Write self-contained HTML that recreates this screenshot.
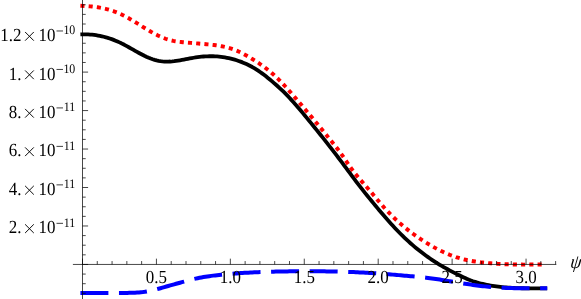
<!DOCTYPE html>
<html><head><meta charset="utf-8"><title>plot</title>
<style>
html,body{margin:0;padding:0;background:#fff;}
body{width:581px;height:299px;overflow:hidden;font-family:"Liberation Serif",serif;}
svg{display:block;will-change:transform;}
text{font-family:"Liberation Serif",serif;font-size:18.5px;fill:#000;text-rendering:geometricPrecision;}
</style></head><body>
<svg width="581" height="299" viewBox="0 0 581 299">
<rect width="581" height="299" fill="#fff"/>
<path d="M80.40,34.43 L82.35,34.36 L84.31,34.33 L86.26,34.35 L88.21,34.43 L90.17,34.54 L92.12,34.71 L94.07,34.93 L96.03,35.20 L97.98,35.51 L99.93,35.88 L101.88,36.30 L103.84,36.77 L105.79,37.29 L107.74,37.86 L109.70,38.48 L111.65,39.16 L113.60,39.88 L115.56,40.66 L117.51,41.50 L119.46,42.38 L121.42,43.32 L123.37,44.31 L125.32,45.34 L127.28,46.40 L129.23,47.48 L131.18,48.58 L133.13,49.69 L135.09,50.79 L137.04,51.89 L138.99,52.96 L140.95,54.01 L142.90,55.02 L144.85,55.99 L146.81,56.91 L148.76,57.77 L150.71,58.56 L152.67,59.27 L154.62,59.90 L156.57,60.44 L158.53,60.87 L160.48,61.20 L162.43,61.43 L164.38,61.57 L166.34,61.62 L168.29,61.60 L170.24,61.52 L172.20,61.37 L174.15,61.17 L176.10,60.92 L178.06,60.63 L180.01,60.31 L181.96,59.96 L183.92,59.59 L185.87,59.22 L187.82,58.84 L189.78,58.46 L191.73,58.09 L193.68,57.75 L195.64,57.42 L197.59,57.13 L199.54,56.88 L201.49,56.67 L203.45,56.50 L205.40,56.37 L207.35,56.28 L209.31,56.23 L211.26,56.22 L213.21,56.26 L215.17,56.34 L217.12,56.47 L219.07,56.64 L221.03,56.86 L222.98,57.12 L224.93,57.43 L226.89,57.78 L228.84,58.19 L230.79,58.64 L232.74,59.14 L234.70,59.69 L236.65,60.29 L238.60,60.94 L240.56,61.64 L242.51,62.39 L244.46,63.20 L246.42,64.07 L248.37,64.99 L250.32,65.99 L252.28,67.04 L254.23,68.17 L256.18,69.36 L258.14,70.63 L260.09,71.97 L262.04,73.37 L263.99,74.83 L265.95,76.35 L267.90,77.92 L269.85,79.52 L271.81,81.17 L273.76,82.84 L275.71,84.54 L277.67,86.27 L279.62,88.04 L281.57,89.86 L283.53,91.74 L285.48,93.68 L287.43,95.68 L289.39,97.75 L291.34,99.86 L293.29,102.02 L295.25,104.23 L297.20,106.47 L299.15,108.75 L301.10,111.06 L303.06,113.39 L305.01,115.74 L306.96,118.11 L308.92,120.49 L310.87,122.87 L312.82,125.27 L314.78,127.68 L316.73,130.10 L318.68,132.53 L320.64,134.97 L322.59,137.42 L324.54,139.89 L326.50,142.36 L328.45,144.86 L330.40,147.36 L332.35,149.88 L334.31,152.41 L336.26,154.96 L338.21,157.52 L340.17,160.10 L342.12,162.70 L344.07,165.31 L346.03,167.94 L347.98,170.58 L349.93,173.22 L351.89,175.86 L353.84,178.49 L355.79,181.09 L357.75,183.65 L359.70,186.19 L361.65,188.68 L363.61,191.14 L365.56,193.58 L367.51,196.00 L369.46,198.40 L371.42,200.79 L373.37,203.17 L375.32,205.54 L377.28,207.89 L379.23,210.22 L381.18,212.53 L383.14,214.82 L385.09,217.09 L387.04,219.32 L389.00,221.53 L390.95,223.70 L392.90,225.84 L394.86,227.95 L396.81,230.01 L398.76,232.03 L400.71,234.01 L402.67,235.94 L404.62,237.83 L406.57,239.67 L408.53,241.47 L410.48,243.22 L412.43,244.93 L414.39,246.60 L416.34,248.23 L418.29,249.81 L420.25,251.36 L422.20,252.87 L424.15,254.33 L426.11,255.76 L428.06,257.15 L430.01,258.50 L431.96,259.82 L433.92,261.11 L435.87,262.36 L437.82,263.58 L439.78,264.77 L441.73,265.93 L443.68,267.07 L445.64,268.17 L447.59,269.26 L449.54,270.32 L451.50,271.36 L453.45,272.38 L455.40,273.38 L457.36,274.36 L459.31,275.32 L461.26,276.27 L463.22,277.20 L465.17,278.10 L467.12,278.96 L469.07,279.77 L471.03,280.52 L472.98,281.21 L474.93,281.84 L476.89,282.43 L478.84,282.97 L480.79,283.48 L482.75,283.96 L484.70,284.40 L486.65,284.81 L488.61,285.19 L490.56,285.55 L492.51,285.87 L494.47,286.18 L496.42,286.45 L498.37,286.70 L500.32,286.93 L502.28,287.14 L504.23,287.32 L506.18,287.49 L508.14,287.63 L510.09,287.76 L512.04,287.87 L514.00,287.97 L515.95,288.05 L517.90,288.12 L519.86,288.18 L521.81,288.23 L523.76,288.26 L525.72,288.29 L527.67,288.31 L529.62,288.32 L531.57,288.32 L533.53,288.33 L535.48,288.32 L537.43,288.32 L539.39,288.31 L541.34,288.30 L543.29,288.30 L545.25,288.29 L547.20,288.29" fill="none" stroke="#000" stroke-width="3.8" stroke-linejoin="round"/>
<path d="M80.40,5.78 L82.34,5.85 L84.27,5.94 L86.21,6.06 L88.14,6.19 L90.08,6.35 L92.01,6.54 L93.95,6.76 L95.88,7.01 L97.82,7.29 L99.76,7.61 L101.69,7.98 L103.63,8.38 L105.56,8.83 L107.50,9.32 L109.43,9.86 L111.37,10.45 L113.30,11.10 L115.24,11.80 L117.18,12.56 L119.11,13.37 L121.05,14.25 L122.98,15.20 L124.92,16.19 L126.85,17.24 L128.79,18.32 L130.72,19.44 L132.66,20.59 L134.60,21.77 L136.53,22.96 L138.47,24.16 L140.40,25.37 L142.34,26.57 L144.27,27.76 L146.21,28.94 L148.14,30.10 L150.08,31.24 L152.02,32.34 L153.95,33.40 L155.89,34.43 L157.82,35.40 L159.76,36.33 L161.69,37.19 L163.63,38.00 L165.56,38.73 L167.50,39.39 L169.44,39.98 L171.37,40.48 L173.31,40.90 L175.24,41.25 L177.18,41.54 L179.11,41.80 L181.05,42.01 L182.98,42.21 L184.92,42.40 L186.86,42.58 L188.79,42.75 L190.73,42.92 L192.66,43.08 L194.60,43.24 L196.53,43.40 L198.47,43.56 L200.41,43.72 L202.34,43.88 L204.28,44.05 L206.21,44.22 L208.15,44.41 L210.08,44.60 L212.02,44.81 L213.95,45.04 L215.89,45.30 L217.83,45.58 L219.76,45.90 L221.70,46.26 L223.63,46.65 L225.57,47.09 L227.50,47.58 L229.44,48.12 L231.37,48.71 L233.31,49.37 L235.25,50.09 L237.18,50.88 L239.12,51.75 L241.05,52.68 L242.99,53.67 L244.92,54.71 L246.86,55.79 L248.79,56.92 L250.73,58.07 L252.67,59.25 L254.60,60.46 L256.54,61.70 L258.47,62.97 L260.41,64.29 L262.34,65.66 L264.28,67.07 L266.21,68.54 L268.15,70.06 L270.09,71.65 L272.02,73.30 L273.96,75.03 L275.89,76.82 L277.83,78.70 L279.76,80.64 L281.70,82.64 L283.63,84.69 L285.57,86.80 L287.51,88.94 L289.44,91.12 L291.38,93.32 L293.31,95.55 L295.25,97.79 L297.18,100.04 L299.12,102.29 L301.05,104.56 L302.99,106.83 L304.93,109.11 L306.86,111.40 L308.80,113.69 L310.73,116.00 L312.67,118.31 L314.60,120.63 L316.54,122.97 L318.47,125.31 L320.41,127.66 L322.35,130.02 L324.28,132.39 L326.22,134.77 L328.15,137.16 L330.09,139.56 L332.02,141.96 L333.96,144.37 L335.89,146.81 L337.83,149.30 L339.77,151.87 L341.70,154.54 L343.64,157.32 L345.57,160.17 L347.51,163.04 L349.44,165.87 L351.38,168.61 L353.31,171.22 L355.25,173.70 L357.19,176.08 L359.12,178.38 L361.06,180.63 L362.99,182.85 L364.93,185.05 L366.86,187.27 L368.80,189.52 L370.73,191.81 L372.67,194.12 L374.61,196.45 L376.54,198.77 L378.48,201.07 L380.41,203.34 L382.35,205.57 L384.28,207.74 L386.22,209.86 L388.15,211.91 L390.09,213.91 L392.03,215.86 L393.96,217.75 L395.90,219.59 L397.83,221.38 L399.77,223.12 L401.70,224.81 L403.64,226.46 L405.57,228.06 L407.51,229.62 L409.45,231.13 L411.38,232.61 L413.32,234.04 L415.25,235.44 L417.19,236.80 L419.12,238.13 L421.06,239.42 L422.99,240.68 L424.93,241.91 L426.87,243.11 L428.80,244.28 L430.74,245.42 L432.67,246.52 L434.61,247.60 L436.54,248.64 L438.48,249.65 L440.42,250.62 L442.35,251.56 L444.29,252.46 L446.22,253.32 L448.16,254.14 L450.09,254.93 L452.03,255.68 L453.96,256.38 L455.90,257.05 L457.84,257.67 L459.77,258.25 L461.71,258.78 L463.64,259.28 L465.58,259.74 L467.51,260.16 L469.45,260.54 L471.38,260.90 L473.32,261.23 L475.26,261.53 L477.19,261.81 L479.13,262.07 L481.06,262.32 L483.00,262.55 L484.93,262.76 L486.87,262.96 L488.80,263.14 L490.74,263.31 L492.68,263.47 L494.61,263.62 L496.55,263.75 L498.48,263.87 L500.42,263.98 L502.35,264.08 L504.29,264.17 L506.22,264.25 L508.16,264.31 L510.10,264.37 L512.03,264.42 L513.97,264.47 L515.90,264.50 L517.84,264.53 L519.77,264.55 L521.71,264.57 L523.64,264.58 L525.58,264.58 L527.52,264.58 L529.45,264.57 L531.39,264.56 L533.32,264.55 L535.26,264.53 L537.19,264.51 L539.13,264.49 L541.06,264.47 L543.00,264.45" fill="none" stroke="#f00" stroke-width="3.9" stroke-dasharray="4.1 4.15" stroke-linejoin="round"/>
<path d="M80.40,292.90 L82.35,292.90 L84.31,292.91 L86.26,292.91 L88.21,292.91 L90.17,292.90 L92.12,292.90 L94.07,292.90 L96.03,292.90 L97.98,292.90 L99.93,292.89 L101.88,292.89 L103.84,292.89 L105.79,292.89 L107.74,292.89 L109.70,292.89 L111.65,292.89 L113.60,292.89 L115.56,292.89 L117.51,292.90 L119.46,292.90 L121.42,292.91 L123.37,292.91 L125.32,292.91 L127.28,292.90 L129.23,292.87 L131.18,292.83 L133.13,292.77 L135.09,292.68 L137.04,292.57 L138.99,292.42 L140.95,292.24 L142.90,292.03 L144.85,291.77 L146.81,291.46 L148.76,291.11 L150.71,290.71 L152.67,290.28 L154.62,289.81 L156.57,289.31 L158.53,288.78 L160.48,288.24 L162.43,287.68 L164.38,287.11 L166.34,286.54 L168.29,285.98 L170.24,285.41 L172.20,284.86 L174.15,284.31 L176.10,283.78 L178.06,283.24 L180.01,282.71 L181.96,282.18 L183.92,281.65 L185.87,281.12 L187.82,280.59 L189.78,280.07 L191.73,279.57 L193.68,279.08 L195.64,278.63 L197.59,278.20 L199.54,277.81 L201.49,277.43 L203.45,277.08 L205.40,276.76 L207.35,276.45 L209.31,276.16 L211.26,275.89 L213.21,275.64 L215.17,275.40 L217.12,275.17 L219.07,274.96 L221.03,274.75 L222.98,274.56 L224.93,274.37 L226.89,274.19 L228.84,274.02 L230.79,273.85 L232.74,273.69 L234.70,273.54 L236.65,273.39 L238.60,273.25 L240.56,273.12 L242.51,272.99 L244.46,272.87 L246.42,272.75 L248.37,272.64 L250.32,272.53 L252.28,272.43 L254.23,272.34 L256.18,272.25 L258.14,272.16 L260.09,272.08 L262.04,272.01 L263.99,271.94 L265.95,271.87 L267.90,271.81 L269.85,271.75 L271.81,271.70 L273.76,271.65 L275.71,271.60 L277.67,271.56 L279.62,271.52 L281.57,271.49 L283.53,271.45 L285.48,271.42 L287.43,271.40 L289.39,271.37 L291.34,271.35 L293.29,271.33 L295.25,271.32 L297.20,271.30 L299.15,271.29 L301.10,271.28 L303.06,271.28 L305.01,271.27 L306.96,271.27 L308.92,271.27 L310.87,271.27 L312.82,271.28 L314.78,271.28 L316.73,271.29 L318.68,271.31 L320.64,271.32 L322.59,271.34 L324.54,271.36 L326.50,271.39 L328.45,271.42 L330.40,271.45 L332.35,271.48 L334.31,271.52 L336.26,271.56 L338.21,271.61 L340.17,271.66 L342.12,271.71 L344.07,271.77 L346.03,271.83 L347.98,271.90 L349.93,271.97 L351.89,272.04 L353.84,272.12 L355.79,272.20 L357.75,272.29 L359.70,272.38 L361.65,272.48 L363.61,272.58 L365.56,272.68 L367.51,272.79 L369.46,272.91 L371.42,273.03 L373.37,273.15 L375.32,273.28 L377.28,273.42 L379.23,273.56 L381.18,273.70 L383.14,273.85 L385.09,274.00 L387.04,274.15 L389.00,274.31 L390.95,274.46 L392.90,274.63 L394.86,274.79 L396.81,274.96 L398.76,275.12 L400.71,275.29 L402.67,275.47 L404.62,275.64 L406.57,275.81 L408.53,275.99 L410.48,276.16 L412.43,276.34 L414.39,276.51 L416.34,276.69 L418.29,276.87 L420.25,277.05 L422.20,277.24 L424.15,277.45 L426.11,277.67 L428.06,277.91 L430.01,278.16 L431.96,278.43 L433.92,278.70 L435.87,278.99 L437.82,279.29 L439.78,279.60 L441.73,279.91 L443.68,280.23 L445.64,280.55 L447.59,280.88 L449.54,281.20 L451.50,281.53 L453.45,281.86 L455.40,282.18 L457.36,282.50 L459.31,282.82 L461.26,283.14 L463.22,283.45 L465.17,283.75 L467.12,284.05 L469.07,284.34 L471.03,284.63 L472.98,284.91 L474.93,285.18 L476.89,285.44 L478.84,285.69 L480.79,285.93 L482.75,286.16 L484.70,286.37 L486.65,286.58 L488.61,286.77 L490.56,286.95 L492.51,287.12 L494.47,287.27 L496.42,287.41 L498.37,287.54 L500.32,287.65 L502.28,287.76 L504.23,287.85 L506.18,287.93 L508.14,288.00 L510.09,288.07 L512.04,288.12 L514.00,288.17 L515.95,288.21 L517.90,288.24 L519.86,288.27 L521.81,288.29 L523.76,288.30 L525.72,288.31 L527.67,288.32 L529.62,288.32 L531.57,288.33 L533.53,288.32 L535.48,288.32 L537.43,288.31 L539.39,288.31 L541.34,288.30 L543.29,288.30 L545.25,288.29 L547.20,288.29" fill="none" stroke="#00f" stroke-width="4" stroke-dasharray="28 10.57" stroke-linejoin="round"/>
<g stroke="#000" stroke-width="0.72" fill="none" shape-rendering="auto">
<path d="M72.9,264.45 H556.3"/>
<path d="M82.5,0 V299"/>
<path d="M82.50,264.45 v-5.8 M97.28,264.45 v-3.4 M112.07,264.45 v-3.4 M126.85,264.45 v-3.4 M141.64,264.45 v-3.4 M156.43,264.45 v-5.8 M171.21,264.45 v-3.4 M186.00,264.45 v-3.4 M200.78,264.45 v-3.4 M215.56,264.45 v-3.4 M230.35,264.45 v-5.8 M245.13,264.45 v-3.4 M259.92,264.45 v-3.4 M274.70,264.45 v-3.4 M289.49,264.45 v-3.4 M304.27,264.45 v-5.8 M319.06,264.45 v-3.4 M333.84,264.45 v-3.4 M348.63,264.45 v-3.4 M363.42,264.45 v-3.4 M378.20,264.45 v-5.8 M392.99,264.45 v-3.4 M407.77,264.45 v-3.4 M422.55,264.45 v-3.4 M437.34,264.45 v-3.4 M452.12,264.45 v-5.8 M466.91,264.45 v-3.4 M481.69,264.45 v-3.4 M496.48,264.45 v-3.4 M511.26,264.45 v-3.4 M526.05,264.45 v-5.8 M540.83,264.45 v-3.4 M555.62,264.45 v-3.4 M82.5,293.30 h3.2 M82.5,283.69 h3.2 M82.5,274.07 h3.2 M82.5,264.45 h5.6 M82.5,254.83 h3.2 M82.5,245.21 h3.2 M82.5,235.60 h3.2 M82.5,225.98 h5.6 M82.5,216.36 h3.2 M82.5,206.75 h3.2 M82.5,197.13 h3.2 M82.5,187.51 h5.6 M82.5,177.89 h3.2 M82.5,168.27 h3.2 M82.5,158.66 h3.2 M82.5,149.04 h5.6 M82.5,139.42 h3.2 M82.5,129.81 h3.2 M82.5,120.19 h3.2 M82.5,110.57 h5.6 M82.5,100.95 h3.2 M82.5,91.33 h3.2 M82.5,81.72 h3.2 M82.5,72.10 h5.6 M82.5,62.48 h3.2 M82.5,52.87 h3.2 M82.5,43.25 h3.2 M82.5,33.63 h5.6 M82.5,24.01 h3.2 M82.5,14.39 h3.2 M82.5,4.78 h3.2"/>
</g>
<text transform="translate(75.30,34.18) scale(0.915,1)" text-anchor="end" style="font-size:13.0px">10</text><path d="M56.5,30.98 h6.5" stroke="#000" stroke-width="0.75" fill="none"/><text transform="translate(55.40,41.08) scale(0.915,1)" text-anchor="end">10</text><path d="M25.1,31.98 l8.7,8.7 M33.8,31.98 l-8.7,8.7" stroke="#000" stroke-width="0.95" fill="none"/><text transform="translate(21.40,41.08) scale(0.915,1)" text-anchor="end">1.2</text><text transform="translate(75.30,72.65) scale(0.915,1)" text-anchor="end" style="font-size:13.0px">10</text><path d="M56.5,69.45 h6.5" stroke="#000" stroke-width="0.75" fill="none"/><text transform="translate(55.40,79.55) scale(0.915,1)" text-anchor="end">10</text><path d="M25.1,70.45 l8.7,8.7 M33.8,70.45 l-8.7,8.7" stroke="#000" stroke-width="0.95" fill="none"/><text transform="translate(21.40,79.55) scale(0.915,1)" text-anchor="end">1.</text><text transform="translate(75.30,111.12) scale(0.915,1)" text-anchor="end" style="font-size:13.0px">11</text><path d="M56.5,107.92 h6.5" stroke="#000" stroke-width="0.75" fill="none"/><text transform="translate(55.40,118.02) scale(0.915,1)" text-anchor="end">10</text><path d="M25.1,108.92 l8.7,8.7 M33.8,108.92 l-8.7,8.7" stroke="#000" stroke-width="0.95" fill="none"/><text transform="translate(21.40,118.02) scale(0.915,1)" text-anchor="end">8.</text><text transform="translate(75.30,149.59) scale(0.915,1)" text-anchor="end" style="font-size:13.0px">11</text><path d="M56.5,146.39 h6.5" stroke="#000" stroke-width="0.75" fill="none"/><text transform="translate(55.40,156.49) scale(0.915,1)" text-anchor="end">10</text><path d="M25.1,147.39 l8.7,8.7 M33.8,147.39 l-8.7,8.7" stroke="#000" stroke-width="0.95" fill="none"/><text transform="translate(21.40,156.49) scale(0.915,1)" text-anchor="end">6.</text><text transform="translate(75.30,188.06) scale(0.915,1)" text-anchor="end" style="font-size:13.0px">11</text><path d="M56.5,184.86 h6.5" stroke="#000" stroke-width="0.75" fill="none"/><text transform="translate(55.40,194.96) scale(0.915,1)" text-anchor="end">10</text><path d="M25.1,185.86 l8.7,8.7 M33.8,185.86 l-8.7,8.7" stroke="#000" stroke-width="0.95" fill="none"/><text transform="translate(21.40,194.96) scale(0.915,1)" text-anchor="end">4.</text><text transform="translate(75.30,226.53) scale(0.915,1)" text-anchor="end" style="font-size:13.0px">11</text><path d="M56.5,223.33 h6.5" stroke="#000" stroke-width="0.75" fill="none"/><text transform="translate(55.40,233.43) scale(0.915,1)" text-anchor="end">10</text><path d="M25.1,224.33 l8.7,8.7 M33.8,224.33 l-8.7,8.7" stroke="#000" stroke-width="0.95" fill="none"/><text transform="translate(21.40,233.43) scale(0.915,1)" text-anchor="end">2.</text><text transform="translate(156.43,282.70) scale(0.915,1)" text-anchor="middle">0.5</text><text transform="translate(230.35,282.70) scale(0.915,1)" text-anchor="middle">1.0</text><text transform="translate(304.27,282.70) scale(0.915,1)" text-anchor="middle">1.5</text><text transform="translate(378.20,282.70) scale(0.915,1)" text-anchor="middle">2.0</text><text transform="translate(452.12,282.70) scale(0.915,1)" text-anchor="middle">2.5</text><text transform="translate(526.05,282.70) scale(0.915,1)" text-anchor="middle">3.0</text><text transform="translate(575.3,267.6) skewX(-7) scale(0.95,1)" text-anchor="middle" style="font-size:19px;font-style:italic">ψ</text>
</svg>
</body></html>
